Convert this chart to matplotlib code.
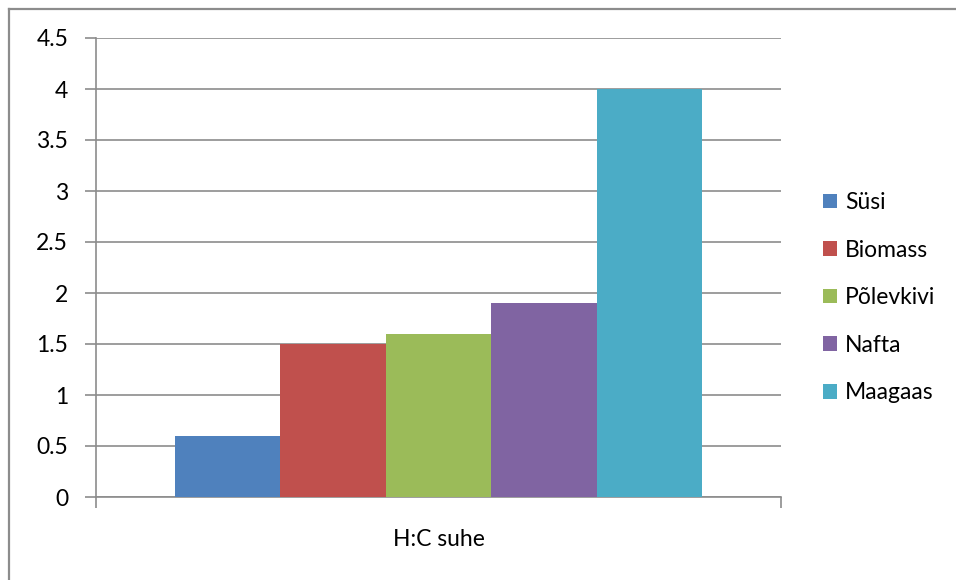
import matplotlib
matplotlib.use("Agg")
import matplotlib.pyplot as plt
from matplotlib.patches import Patch
from matplotlib.lines import Line2D

category = "H:C suhe"
fuels = ["Süsi", "Biomass", "Põlevkivi", "Nafta", "Maagaas"]
hc_ratio = [0.6, 1.5, 1.6, 1.9, 4.0]
colors = ["#4F81BD", "#C0504D", "#9BBB59", "#8064A2", "#4BACC6"]
y_ticks = [0, 0.5, 1, 1.5, 2, 2.5, 3, 3.5, 4, 4.5]
y_labels = ["0", "0.5", "1", "1.5", "2", "2.5", "3", "3.5", "4", "4.5"]

plt.rcParams["font.family"] = ["Lato", "DejaVu Sans"]
FS = 16.5

W, H = 956, 580
fig = plt.figure(figsize=(W / 100, H / 100), dpi=100)

# plot area in pixel coordinates
left, right, top, bottom = 96, 781, 38, 497
ax = fig.add_axes([left / W, 1 - bottom / H, (right - left) / W, (bottom - top) / H])

n = len(fuels)
gap = 1.5
width = 1.0 / (n + gap)
start = -0.5 + gap * width / 2
for i, (name, val, c) in enumerate(zip(fuels, hc_ratio, colors)):
    ax.bar(start + (i + 0.5) * width, val, width=width, color=c, label=name, zorder=3)

ax.set_xlim(-0.5, 0.5)
ax.set_ylim(0, 4.5)
ax.set_yticks(y_ticks)
ax.set_yticklabels(y_labels, fontsize=FS)
ax.yaxis.grid(True, color="#8C8C8C", linewidth=1.2, zorder=0)
ax.tick_params(axis="y", length=8, width=1.2, color="#8C8C8C", pad=12, labelcolor="black")
ax.set_xticks([-0.5, 0.5])
ax.set_xticklabels([])
ax.tick_params(axis="x", length=8, width=1.2, color="#8C8C8C")
for s in ["top", "right"]:
    ax.spines[s].set_visible(False)
for s in ["left", "bottom"]:
    ax.spines[s].set_color("#8C8C8C")
    ax.spines[s].set_linewidth(1.2)

fig.text(0.5 * (left + right) / W, 1 - 540 / H, category, ha="center",
         va="center", fontsize=FS)

handles = [Patch(facecolor=c, edgecolor="none") for c in colors]
fig.legend(handles, fuels, loc="upper left", bbox_to_anchor=(823 / W, 1 - 192 / H),
           frameon=False, fontsize=FS, handlelength=0.61, handleheight=0.61,
           handletextpad=0.35, labelspacing=1.16, borderaxespad=0, borderpad=0)

# outer chart border (left and top edges)
fig.add_artist(Line2D([8.5 / W, 8.5 / W], [0, 1 - 8.5 / H], transform=fig.transFigure,
                      color="#8C8C8C", linewidth=1.6))
fig.add_artist(Line2D([8.5 / W, 1], [1 - 8.5 / H, 1 - 8.5 / H], transform=fig.transFigure,
                      color="#8C8C8C", linewidth=1.6))

fig.savefig("out.png", dpi=100)
